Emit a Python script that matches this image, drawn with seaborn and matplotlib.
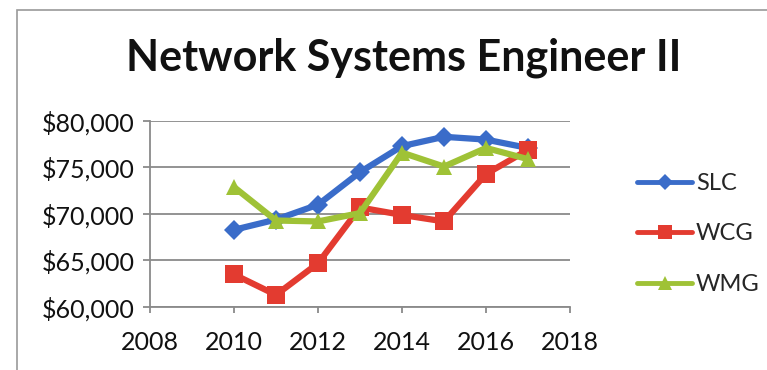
import matplotlib
matplotlib.use("Agg")
import matplotlib.pyplot as plt
import matplotlib.ticker as mticker
from matplotlib.patches import Rectangle
import seaborn as sns
import pandas as pd

years = [2010, 2011, 2012, 2013, 2014, 2015, 2016, 2017]
slc = [68300, 69400, 71000, 74500, 77300, 78300, 78000, 77100]
wcg = [63500, 61300, 64700, 70700, 69900, 69200, 74300, 76900]
wmg = [72900, 69300, 69200, 70100, 76600, 75100, 77100, 75900]
series_names = ["SLC", "WCG", "WMG"]
title = "Network Systems Engineer II"

df = pd.DataFrame({
    "year": years * 3,
    "salary": slc + wcg + wmg,
    "series": [n for n in series_names for _ in years],
})

sns.set_theme(style="white")
plt.rcParams["font.family"] = ["Lato", "DejaVu Sans"]

colors = {"SLC": "#3a6cc9", "WCG": "#e33b30", "WMG": "#9fc236"}
markers = {"SLC": "D", "WCG": "s", "WMG": "^"}
msize = {"SLC": 10, "WCG": 13, "WMG": 12}

fig = plt.figure(figsize=(7.67, 3.70), dpi=100)
ax = fig.add_axes([150 / 767, 1 - 307 / 370, 420 / 767, 186 / 370])

sns.lineplot(data=df, x="year", y="salary", hue="series", palette=colors,
             linewidth=4.5, ax=ax, legend=False)
for line, name in zip(ax.get_lines(), series_names):
    line.set_marker(markers[name])
    line.set_markersize(msize[name])
    line.set_markeredgewidth(0)
    line.set_solid_capstyle("round")

ax.set_xlim(2008, 2018)
ax.set_ylim(60000, 80000)
ax.set_xticks(range(2008, 2019, 2))
ax.set_yticks(range(60000, 80001, 5000))
ax.yaxis.set_major_formatter(mticker.FuncFormatter(lambda v, p: f"${v:,.0f}"))
ax.set_xlabel("")
ax.set_ylabel("")
ax.grid(axis="y", color="#8a8a8a", linewidth=1.3)
ax.grid(axis="x", visible=False)
for side in ["top", "right"]:
    ax.spines[side].set_visible(False)
for side in ["left", "bottom"]:
    ax.spines[side].set_color("#8a8a8a")
    ax.spines[side].set_linewidth(1.3)
ax.tick_params(axis="y", length=5, width=1.3, color="#8a8a8a", pad=6,
               labelsize=18, left=True)
ax.tick_params(axis="x", length=4, width=1.3, color="#8a8a8a", pad=13,
               labelsize=18, bottom=True)
for lbl in ax.get_xticklabels() + ax.get_yticklabels():
    lbl.set_color("#111111")

handles = [plt.Line2D([], [], color=colors[n], marker=markers[n],
                      markersize=msize[n] * 0.8, markeredgewidth=0,
                      linewidth=3.5) for n in series_names]
fig.legend(handles, series_names, loc="center left",
           bbox_to_anchor=(637 / 767, 1 - 234 / 370), frameon=False,
           fontsize=17, handlelength=2.35, handletextpad=0.15,
           labelspacing=1.25, borderaxespad=0, borderpad=0)

fig.text(404 / 767, 1 - 70 / 370, title, ha="center", va="baseline",
         fontsize=31, fontweight="bold", color="#111111")

fig.patches.append(Rectangle((17 / 767, -0.05), 1.0, 1 - 10 / 370 + 0.05,
                             transform=fig.transFigure, fill=False,
                             edgecolor="#9a9a9a", linewidth=1.2))

fig.savefig("out.png", dpi=100)
